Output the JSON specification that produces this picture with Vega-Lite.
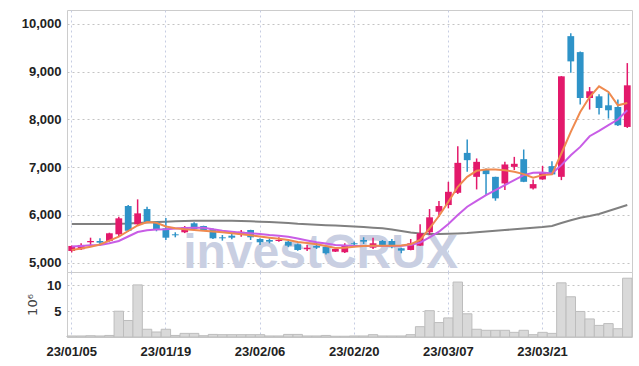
{
"$schema": "https://vega.github.io/schema/vega-lite/v6.json",
"padding": {"left": 20, "top": 9, "right": 8, "bottom": 5},
"background": "white",
"bounds": "flush",
"spacing": 0,
"config": {
  "view": {"stroke": "#cccccc"},
  "axis": {"labelFont": "Liberation Sans", "labelFontSize": 13, "labelFontWeight": "bold", "labelColor": "#222222", "domain": false, "ticks": false, "gridDash": [2, 3], "gridColor": "#c4c4c4", "gridWidth": 1}
},
"datasets": {
"p": [
{"d":"23/01/05","o":5246,"h":5360,"l":5215,"c":5351,"v":0.2,"m5":5267,"m20":5340,"m60":5810},
{"d":"23/01/06","o":5282,"h":5407,"l":5267,"c":5372,"v":0.2,"m5":5298,"m20":5351,"m60":5810},
{"d":"23/01/09","o":5428,"h":5524,"l":5372,"c":5455,"v":0.25,"m5":5336,"m20":5365,"m60":5810},
{"d":"23/01/10","o":5455,"h":5511,"l":5386,"c":5420,"v":0.2,"m5":5382,"m20":5372,"m60":5810},
{"d":"23/01/11","o":5455,"h":5628,"l":5441,"c":5616,"v":0.3,"m5":5461,"m20":5407,"m60":5810},
{"d":"23/01/12","o":5595,"h":5962,"l":5555,"c":5929,"v":5.0,"m5":5545,"m20":5455,"m60":5814},
{"d":"23/01/13","o":6186,"h":6207,"l":5649,"c":5670,"v":3.2,"m5":5664,"m20":5549,"m60":5820},
{"d":"23/01/16","o":5804,"h":6326,"l":5789,"c":6033,"v":10.1,"m5":5779,"m20":5643,"m60":5831},
{"d":"23/01/17","o":6123,"h":6171,"l":5838,"c":5845,"v":1.5,"m5":5852,"m20":5678,"m60":5841},
{"d":"23/01/18","o":5858,"h":5865,"l":5658,"c":5685,"v":0.97,"m5":5837,"m20":5695,"m60":5852},
{"d":"23/01/19","o":5720,"h":5935,"l":5476,"c":5524,"v":1.5,"m5":5758,"m20":5699,"m60":5858},
{"d":"23/01/20","o":5595,"h":5637,"l":5532,"c":5574,"v":0.3,"m5":5720,"m20":5716,"m60":5866},
{"d":"23/01/25","o":5637,"h":5768,"l":5620,"c":5741,"v":0.7,"m5":5699,"m20":5726,"m60":5872},
{"d":"23/01/26","o":5825,"h":5846,"l":5685,"c":5706,"v":0.7,"m5":5685,"m20":5733,"m60":5877},
{"d":"23/01/27","o":5768,"h":5775,"l":5670,"c":5685,"v":0.25,"m5":5670,"m20":5733,"m60":5879},
{"d":"23/01/30","o":5706,"h":5720,"l":5497,"c":5511,"v":0.5,"m5":5653,"m20":5699,"m60":5879},
{"d":"23/01/31","o":5532,"h":5580,"l":5462,"c":5511,"v":0.45,"m5":5637,"m20":5670,"m60":5879},
{"d":"23/02/01","o":5566,"h":5601,"l":5490,"c":5524,"v":0.45,"m5":5616,"m20":5649,"m60":5877},
{"d":"23/02/02","o":5580,"h":5685,"l":5545,"c":5649,"v":0.45,"m5":5595,"m20":5628,"m60":5872},
{"d":"23/02/03","o":5685,"h":5690,"l":5476,"c":5532,"v":0.45,"m5":5574,"m20":5616,"m60":5866},
{"d":"23/02/06","o":5497,"h":5511,"l":5372,"c":5428,"v":0.45,"m5":5549,"m20":5601,"m60":5858},
{"d":"23/02/07","o":5476,"h":5511,"l":5407,"c":5441,"v":0.2,"m5":5524,"m20":5580,"m60":5852},
{"d":"23/02/08","o":5455,"h":5532,"l":5441,"c":5476,"v":0.2,"m5":5503,"m20":5566,"m60":5841},
{"d":"23/02/09","o":5441,"h":5455,"l":5330,"c":5357,"v":0.5,"m5":5476,"m20":5545,"m60":5831},
{"d":"23/02/10","o":5386,"h":5400,"l":5250,"c":5267,"v":0.5,"m5":5434,"m20":5507,"m60":5814},
{"d":"23/02/13","o":5282,"h":5372,"l":5246,"c":5315,"v":0.2,"m5":5413,"m20":5466,"m60":5804},
{"d":"23/02/14","o":5351,"h":5413,"l":5288,"c":5315,"v":0.2,"m5":5386,"m20":5428,"m60":5793},
{"d":"23/02/15","o":5336,"h":5350,"l":5170,"c":5198,"v":0.3,"m5":5351,"m20":5403,"m60":5785},
{"d":"23/02/16","o":5232,"h":5300,"l":5225,"c":5288,"v":0.15,"m5":5309,"m20":5372,"m60":5777},
{"d":"23/02/17","o":5219,"h":5407,"l":5205,"c":5372,"v":0.15,"m5":5315,"m20":5361,"m60":5768},
{"d":"23/02/20","o":5407,"h":5441,"l":5336,"c":5386,"v":0.2,"m5":5336,"m20":5351,"m60":5758},
{"d":"23/02/21","o":5476,"h":5532,"l":5393,"c":5441,"v":0.2,"m5":5351,"m20":5351,"m60":5747},
{"d":"23/02/22","o":5315,"h":5524,"l":5288,"c":5407,"v":0.45,"m5":5357,"m20":5351,"m60":5733},
{"d":"23/02/23","o":5455,"h":5476,"l":5330,"c":5372,"v":0.2,"m5":5357,"m20":5351,"m60":5720},
{"d":"23/02/24","o":5455,"h":5497,"l":5302,"c":5323,"v":0.2,"m5":5357,"m20":5351,"m60":5695},
{"d":"23/02/27","o":5302,"h":5315,"l":5198,"c":5253,"v":0.2,"m5":5361,"m20":5357,"m60":5664},
{"d":"23/02/28","o":5267,"h":5497,"l":5260,"c":5407,"v":0.45,"m5":5386,"m20":5372,"m60":5632},
{"d":"23/03/02","o":5357,"h":5804,"l":5350,"c":5616,"v":2.0,"m5":5476,"m20":5420,"m60":5612},
{"d":"23/03/03","o":5637,"h":6123,"l":5580,"c":5950,"v":5.1,"m5":5720,"m20":5532,"m60":5601},
{"d":"23/03/06","o":6067,"h":6290,"l":5962,"c":6186,"v":2.8,"m5":5977,"m20":5649,"m60":5601},
{"d":"23/03/07","o":6207,"h":6693,"l":6138,"c":6484,"v":3.7,"m5":6275,"m20":5810,"m60":5605},
{"d":"23/03/08","o":6463,"h":7438,"l":6436,"c":7090,"v":10.65,"m5":6589,"m20":5998,"m60":5612},
{"d":"23/03/09","o":7298,"h":7578,"l":6902,"c":7146,"v":4.5,"m5":6797,"m20":6171,"m60":5622},
{"d":"23/03/10","o":6797,"h":7182,"l":6534,"c":7111,"v":1.5,"m5":6923,"m20":6296,"m60":5637},
{"d":"23/03/13","o":6958,"h":6970,"l":6416,"c":6854,"v":1.3,"m5":6952,"m20":6415,"m60":5653},
{"d":"23/03/14","o":6797,"h":6800,"l":6297,"c":6347,"v":1.3,"m5":6952,"m20":6520,"m60":5670},
{"d":"23/03/15","o":6660,"h":7111,"l":6520,"c":7056,"v":1.3,"m5":6937,"m20":6624,"m60":5685},
{"d":"23/03/16","o":7006,"h":7215,"l":6940,"c":7070,"v":0.9,"m5":6902,"m20":6729,"m60":5699},
{"d":"23/03/17","o":7167,"h":7369,"l":6686,"c":6693,"v":1.3,"m5":6854,"m20":6833,"m60":5716},
{"d":"23/03/20","o":6555,"h":6743,"l":6534,"c":6645,"v":0.45,"m5":6777,"m20":6881,"m60":5733},
{"d":"23/03/21","o":6743,"h":7027,"l":6735,"c":6881,"v":0.9,"m5":6833,"m20":6889,"m60":5747},
{"d":"23/03/22","o":7021,"h":7125,"l":6840,"c":6848,"v":0.7,"m5":6848,"m20":6868,"m60":5768},
{"d":"23/03/23","o":6797,"h":8905,"l":6728,"c":8900,"v":10.5,"m5":7286,"m20":7042,"m60":5831},
{"d":"23/03/24","o":9741,"h":9804,"l":8977,"c":9213,"v":7.8,"m5":7737,"m20":7250,"m60":5887},
{"d":"23/03/27","o":9407,"h":9422,"l":8309,"c":8447,"v":4.95,"m5":8154,"m20":7424,"m60":5941},
{"d":"23/03/28","o":8447,"h":8676,"l":8205,"c":8587,"v":3.5,"m5":8468,"m20":7647,"m60":5977},
{"d":"23/03/29","o":8482,"h":8524,"l":8100,"c":8238,"v":2.25,"m5":8691,"m20":7758,"m60":6018},
{"d":"23/03/30","o":8294,"h":8551,"l":8017,"c":8190,"v":2.6,"m5":8572,"m20":7877,"m60":6081},
{"d":"23/03/31","o":8259,"h":8413,"l":7862,"c":7877,"v":1.6,"m5":8294,"m20":7996,"m60":6144},
{"d":"23/04/03","o":7841,"h":9177,"l":7820,"c":8712,"v":11.4,"m5":8342,"m20":8190,"m60":6207}
]
},
"vconcat": [
{
  "width": 565,
  "height": 262,
  "data": {"name": "p"},
  "encoding": {
    "x": {"field": "d", "type": "ordinal", "title": null,
      "scale": {"paddingInner": 0, "paddingOuter": 0},
      "axis": {"labels": false, "grid": true, "gridColor": "#c6cde2", "values": ["23/01/05","23/01/19","23/02/06","23/02/20","23/03/07","23/03/21"]}}
  },
  "layer": [
    {
      "data": {"values": [{"d": "23/02/14", "p": 4891, "t": "investCRUX"}]},
      "mark": {"type": "text", "font": "Liberation Sans", "fontWeight": "bold", "fontSize": 48, "color": "#c9cfe2", "align": "center", "baseline": "alphabetic", "dx": 4},
      "encoding": {
        "y": {"field": "p", "type": "quantitative", "title": null,
          "scale": {"domain": [4806, 10288], "nice": false, "zero": false},
          "axis": {"values": [5000, 6000, 7000, 8000, 9000, 10000], "format": ",d", "labelPadding": 6, "grid": true}},
        "text": {"field": "t"}
      }
    },
    {
      "mark": {"type": "line", "color": "#808080", "strokeWidth": 2},
      "encoding": {"y": {"field": "m60", "type": "quantitative", "title": null}}
    },
    {
      "mark": {"type": "rule", "strokeWidth": 1.5},
      "encoding": {
        "y": {"field": "l", "type": "quantitative", "title": null},
        "y2": {"field": "h"},
        "color": {"condition": {"test": "datum.c >= datum.o", "value": "#e3196b"}, "value": "#2e93c8"}
      }
    },
    {
      "mark": {"type": "bar", "width": {"band": 0.72}},
      "encoding": {
        "y": {"field": "o", "type": "quantitative", "title": null},
        "y2": {"field": "c"},
        "color": {"condition": {"test": "datum.c >= datum.o", "value": "#e3196b"}, "value": "#2e93c8"}
      }
    },
    {
      "mark": {"type": "line", "color": "#c85de6", "strokeWidth": 2},
      "encoding": {"y": {"field": "m20", "type": "quantitative", "title": null}}
    },
    {
      "mark": {"type": "line", "color": "#ef8a4f", "strokeWidth": 2},
      "encoding": {"y": {"field": "m5", "type": "quantitative", "title": null}}
    }
  ]
},
{
  "width": 565,
  "height": 65,
  "data": {"name": "p"},
  "mark": {"type": "bar", "fill": "#d9d9d9", "stroke": "#bdbdbd", "strokeWidth": 1, "width": {"band": 1}},
  "encoding": {
    "x": {"field": "d", "type": "ordinal", "title": null,
      "scale": {"paddingInner": 0, "paddingOuter": 0},
      "axis": {"labelAngle": 0, "labelPadding": 8, "grid": true, "gridColor": "#c6cde2", "labelOverlap": false, "values": ["23/01/05","23/01/19","23/02/06","23/02/20","23/03/07","23/03/21"]}},
    "y": {"field": "v", "type": "quantitative",
      "scale": {"domain": [0, 12.6], "nice": false},
      "axis": {"values": [5, 10], "title": "10⁶", "titleFont": "DejaVu Sans", "titleFontWeight": "normal", "titleFontSize": 13, "titleColor": "#444444", "titlePadding": 7, "labelPadding": 6, "grid": true}}
  }
}
]
}
